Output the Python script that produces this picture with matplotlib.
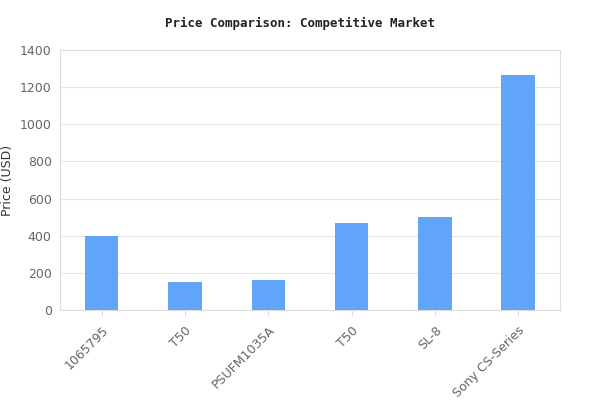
import numpy as np
import matplotlib
matplotlib.use("Agg")
import matplotlib.pyplot as plt

products = ["1065795", "T50", "PSUFM1035A", "T50", "SL-8", "Sony CS-Series"]
prices = [400, 152, 162, 470, 502, 1265]

fig = plt.figure(figsize=(6, 4.2), dpi=100)
ax = fig.add_axes([0.1, 0.262, 0.833, 0.619])

x = np.arange(len(products))
ax.bar(x, prices, width=0.4, color="#60a5fa", zorder=3)

ax.set_xlim(-0.5, len(products) - 0.5)
ax.set_ylim(0, 1400)
ax.set_yticks(range(0, 1401, 200))
ax.set_xticks(x)
ax.set_xticklabels(products, rotation=45, ha="right", rotation_mode="anchor")
ax.tick_params(colors="#666666", labelsize=9, length=0, pad=6)
ax.tick_params(axis="x", length=4, color="#dddddd")
ax.grid(axis="y", color="#e5e5e5", linewidth=0.8, zorder=0)
for s in ax.spines.values():
    s.set_color("#dddddd")

ax.set_ylabel("Price (USD)", fontsize=9, color="#333333")
fig.suptitle("Price Comparison: Competitive Market", y=0.96, fontsize=9,
             family="DejaVu Sans Mono", fontweight="bold", color="#222222")

fig.savefig("out.png", dpi=100)
